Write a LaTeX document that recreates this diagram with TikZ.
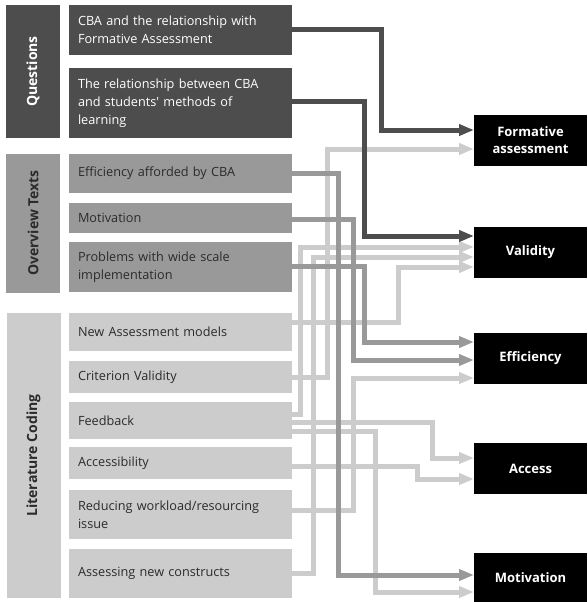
\documentclass[tikz,border=0pt]{standalone}
\usepackage{fontspec}
\setmainfont{Open Sans}
\usetikzlibrary{arrows.meta}
\definecolor{qgray}{HTML}{4D4D4D}
\definecolor{ogray}{HTML}{999999}
\definecolor{lgray}{HTML}{CCCCCC}
\definecolor{txtgray}{HTML}{2B2B2B}

\begin{document}
\begin{tikzpicture}[x=1pt, y=-1pt,
    item/.style={rectangle, anchor=north west, text width=205pt, inner xsep=9pt, inner ysep=0pt,
        outer sep=0pt, align=left, font=\fontsize{12.7}{18}\selectfont},
    group/.style={rectangle, rotate=90, minimum height=54pt, inner sep=0pt, outer sep=0pt,
        font=\bfseries\fontsize{14}{16}\selectfont},
    theme/.style={rectangle, fill=black, text=white, minimum width=113pt, minimum height=51pt,
        inner sep=0pt, outer sep=0pt, align=center, font=\bfseries\fontsize{13}{17}\selectfont},
    link/.style={line width=5pt, -{Triangle[length=15pt,width=11pt]}}]
            \useasboundingbox (0,0) rectangle (587,602);
            \fill[white] (0,0) rectangle (587,602);

            % questions
            \node[group, fill=qgray, text=white, minimum width=133pt] (quest) at (33,71.5) {Questions};
            \node[item, fill=qgray, text=white, minimum height=50pt] (q1) at (69,5)
                {CBA and the relationship with\\Formative Assessment};
            \node[item, fill=qgray, text=white, minimum height=70pt] (q2) at (69,68)
                {The relationship between CBA\\and students\textquotesingle{} methods of\\learning};

            % overview texts
            \node[group, fill=ogray, text=txtgray, minimum width=139pt] (over) at (33,223) {Overview Texts};
            \node[item, fill=ogray, text=txtgray, minimum height=39pt] (effi) at (69,154) {Efficiency afforded by CBA};
            \node[item, fill=ogray, text=txtgray, minimum height=30pt] (moti) at (69,203) {Motivation};
            \node[item, fill=ogray, text=txtgray, minimum height=50pt] (prob) at (69,242)
                {Problems with wide scale\\implementation};

            % literature coding
            \node[group, fill=lgray, text=txtgray, minimum width=285pt] (lit) at (33.5,455.5) {Literature Coding};
            \node[item, fill=lgray, text=txtgray, minimum height=38pt] (newm) at (69,313) {New Assessment models};
            \node[item, fill=lgray, text=txtgray, minimum height=32pt] (crit) at (69,361) {Criterion Validity};
            \node[item, fill=lgray, text=txtgray, minimum height=37pt] (feed) at (69,402) {Feedback};
            \node[item, fill=lgray, text=txtgray, minimum height=32pt] (acce) at (69,447) {Accessibility};
            \node[item, fill=lgray, text=txtgray, minimum height=49pt] (redu) at (69,490)
                {Reducing workload/resourcing\\issue};
            \node[item, fill=lgray, text=txtgray, minimum height=49pt] (asse) at (69,549) {Assessing new constructs};

            % themes
            \node[theme] (fa) at (530.5,140) {Formative\\assessment};
            \node[theme] (val) at (530.5,252) {Validity};
            \node[theme] (eff) at (530.5,358) {Efficiency};
            \node[theme] (acc) at (530.5,468.5) {Access};
            \node[theme] (mot) at (530.5,578) {Motivation};

            % literature links
            \draw[link, lgray] (newm.east |- 0,322) -| (398,267) -- (val.west |- 0,267);
            \draw[link, lgray] (crit.east |- 0,377) -| (327,149) -- (fa.west |- 0,149);
            \draw[link, lgray] (feed.east |- 0,414) -| (300,247) -- (val.west |- 0,247);
            \draw[link, lgray] (feed.east |- 0,422) -| (432,458) -- (acc.west |- 0,458);
            \draw[link, lgray] (feed.east |- 0,431) -| (375,592) -- (mot.west |- 0,592);
            \draw[link, lgray] (acce.east |- 0,466) -| (417,479) -- (acc.west |- 0,479);
            \draw[link, lgray] (redu.east |- 0,510) -| (353,378) -- (eff.west |- 0,378);
            \draw[link, lgray] (asse.east |- 0,573) -| (313,257) -- (val.west |- 0,257);

            % overview links
            \draw[link, ogray] (effi.east |- 0,173) -| (338,575) -- (mot.west |- 0,575);
            \draw[link, ogray] (moti.east |- 0,219) -| (353,360) -- (eff.west |- 0,360);
            \draw[link, ogray] (prob.east |- 0,266) -| (364,342) -- (eff.west |- 0,342);

            % question links
            \draw[link, qgray] (q1.east |- 0,30) -| (381,130) -- (fa.west |- 0,130);
            \draw[link, qgray] (q2.east |- 0,101) -| (364,236) -- (val.west |- 0,236);
        \end{tikzpicture}
\end{document}
